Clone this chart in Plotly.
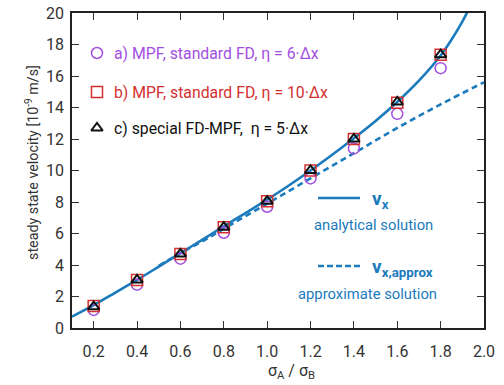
import plotly.graph_objects as go

# ---- data ----
x_curve = [0.1, 0.2, 0.3, 0.4, 0.5, 0.6, 0.7, 0.8, 0.9, 1.0, 1.1, 1.2, 1.3, 1.4,
           1.5, 1.6, 1.7, 1.8, 1.85, 1.9, 1.95]
v_analytical = [0.72, 1.45, 2.25, 3.05, 3.9, 4.75, 5.6, 6.45, 7.3, 8.15, 9.05, 10.0,
                11.0, 12.05, 13.15, 14.35, 15.7, 17.3, 18.3, 19.45, 20.8]

x_approx = [0.5, 0.6, 0.7, 0.8, 1.0, 1.2, 1.4, 1.6, 1.8, 2.0]
v_approx = [3.95, 4.75, 5.5, 6.3, 7.9, 9.5, 11.1, 12.7, 14.2, 15.6]

x_pts = [0.2, 0.4, 0.6, 0.8, 1.0, 1.2, 1.4, 1.6, 1.8]
v_a = [1.15, 2.75, 4.4, 6.05, 7.7, 9.5, 11.4, 13.6, 16.5]
v_b = [1.4, 3.05, 4.7, 6.4, 8.05, 10.0, 12.0, 14.3, 17.35]
v_c = [1.35, 3.05, 4.7, 6.4, 8.05, 10.0, 12.0, 14.35, 17.35]

x_ticks = [0.2, 0.4, 0.6, 0.8, 1.0, 1.2, 1.4, 1.6, 1.8, 2.0]
y_ticks = [0, 2, 4, 6, 8, 10, 12, 14, 16, 18, 20]

legend_labels = ["a) MPF, standard FD, η = 6·Δx",
                 "b) MPF, standard FD, η = 10·Δx",
                 "c) special FD-MPF,  η = 5·Δx"]

BLUE = "#1b7bbd"
PURPLE = "#a24fe0"
RED = "#d43030"
BLACK = "#111111"
FONT = "Roboto"

fig = go.Figure()
fig.add_trace(go.Scatter(x=x_approx, y=v_approx, mode="lines", line_shape="spline",
                         line=dict(color=BLUE, width=2.6, dash="6px,4px"), showlegend=False))
fig.add_trace(go.Scatter(x=x_curve, y=v_analytical, mode="lines", line_shape="spline",
                         line=dict(color=BLUE, width=2.6, smoothing=0.8), showlegend=False))
fig.add_trace(go.Scatter(x=x_pts, y=v_a, mode="markers", showlegend=False,
                         marker=dict(symbol="circle-open", size=11, color=PURPLE,
                                     line=dict(width=1.5, color=PURPLE))))
fig.add_trace(go.Scatter(x=x_pts, y=v_b, mode="markers", showlegend=False,
                         marker=dict(symbol="square-open", size=11, color=RED,
                                     line=dict(width=1.5, color=RED))))
fig.add_trace(go.Scatter(x=x_pts, y=v_c, mode="markers", showlegend=False,
                         marker=dict(symbol="triangle-up-open", size=10, color=BLACK,
                                     line=dict(width=2, color=BLACK))))

# ---- in-plot legend (paper pixel placement) ----
W, H = 504, 385
ml, mr, mt, mb = 72, 20, 13, 57
pw, ph = W - ml - mr, H - mt - mb


def px(xp):
    return (xp - ml) / pw


def py(yp):
    return 1 - (yp - mt) / ph


leg_sym = ["circle-open", "square-open", "triangle-up-open"]
leg_col = [PURPLE, RED, BLACK]
leg_y = [53, 92, 128]
for sym, col, yy, lab in zip(leg_sym, leg_col, leg_y, legend_labels):
    fig.add_trace(go.Scatter(x=[px(97)], y=[py(yy)], xaxis="x2", yaxis="y2", mode="markers",
                             showlegend=False,
                             marker=dict(symbol=sym, size=11 if sym != "triangle-up-open" else 10,
                                         color=col, line=dict(width=1.5 if col != BLACK else 2, color=col))))
    fig.add_annotation(x=px(112), y=py(yy), xref="paper", yref="paper", text=lab,
                       showarrow=False, xanchor="left", yanchor="middle",
                       font=dict(family=FONT, size=15.8, color=col))

fig.add_trace(go.Scatter(x=[px(318), px(360)], y=[py(198), py(198)], xaxis="x2", yaxis="y2",
                         mode="lines", showlegend=False, line=dict(color=BLUE, width=2.4)))
fig.add_trace(go.Scatter(x=[px(318), px(360)], y=[py(266), py(266)], xaxis="x2", yaxis="y2",
                         mode="lines", showlegend=False,
                         line=dict(color=BLUE, width=2.4, dash="6px,3px")))

fig.add_annotation(x=px(370), y=py(199), xref="paper", yref="paper",
                   text="<b>v<sub>x</sub></b>", showarrow=False, xanchor="left", yanchor="middle",
                   font=dict(family=FONT, size=19, color=BLUE))
fig.add_annotation(x=px(373), y=py(225), xref="paper", yref="paper",
                   text="analytical solution", showarrow=False, xanchor="center", yanchor="middle",
                   font=dict(family=FONT, size=14.8, color=BLUE))
fig.add_annotation(x=px(370), y=py(267), xref="paper", yref="paper",
                   text="<b>v<sub>x,approx</sub></b>", showarrow=False, xanchor="left", yanchor="middle",
                   font=dict(family=FONT, size=19, color=BLUE))
fig.add_annotation(x=px(367), y=py(294), xref="paper", yref="paper",
                   text="approximate solution", showarrow=False, xanchor="center", yanchor="middle",
                   font=dict(family=FONT, size=14.8, color=BLUE))

# axis titles placed as annotations
fig.add_annotation(x=px(32), y=py(163), xref="paper", yref="paper",
                   text="steady state velocity [10<sup>-9</sup> m/s]", showarrow=False,
                   textangle=-90, xanchor="center", yanchor="middle",
                   font=dict(family=FONT, size=14.3, color="#333"))
fig.add_annotation(x=px(291), y=py(371), xref="paper", yref="paper",
                   text="σ<sub>A</sub> / σ<sub>B</sub>", showarrow=False,
                   xanchor="center", yanchor="middle",
                   font=dict(family=FONT, size=16, color="#333"))

axis_common = dict(ticks="inside", ticklen=7, tickwidth=1.3, tickcolor="#333",
                   showline=True, linecolor="#222", linewidth=1.6, mirror="ticks",
                   showgrid=False, zeroline=False,
                   tickfont=dict(family=FONT, size=16, color="#333"))

fig.update_layout(
    width=W, height=H, margin=dict(l=ml, r=mr, t=mt, b=mb, autoexpand=False),
    paper_bgcolor="white", plot_bgcolor="white",
    xaxis=dict(range=[0.1, 2.0], tickvals=x_ticks, ticktext=[f"{v:.1f}" for v in x_ticks],
               ticklabelstandoff=8, **axis_common),
    yaxis=dict(range=[0, 20], tickvals=y_ticks, ticklabelstandoff=3, **axis_common),
    xaxis2=dict(range=[0, 1], visible=False, overlaying="x"),
    yaxis2=dict(range=[0, 1], visible=False, overlaying="y"),
)

fig.write_html("out.html")
